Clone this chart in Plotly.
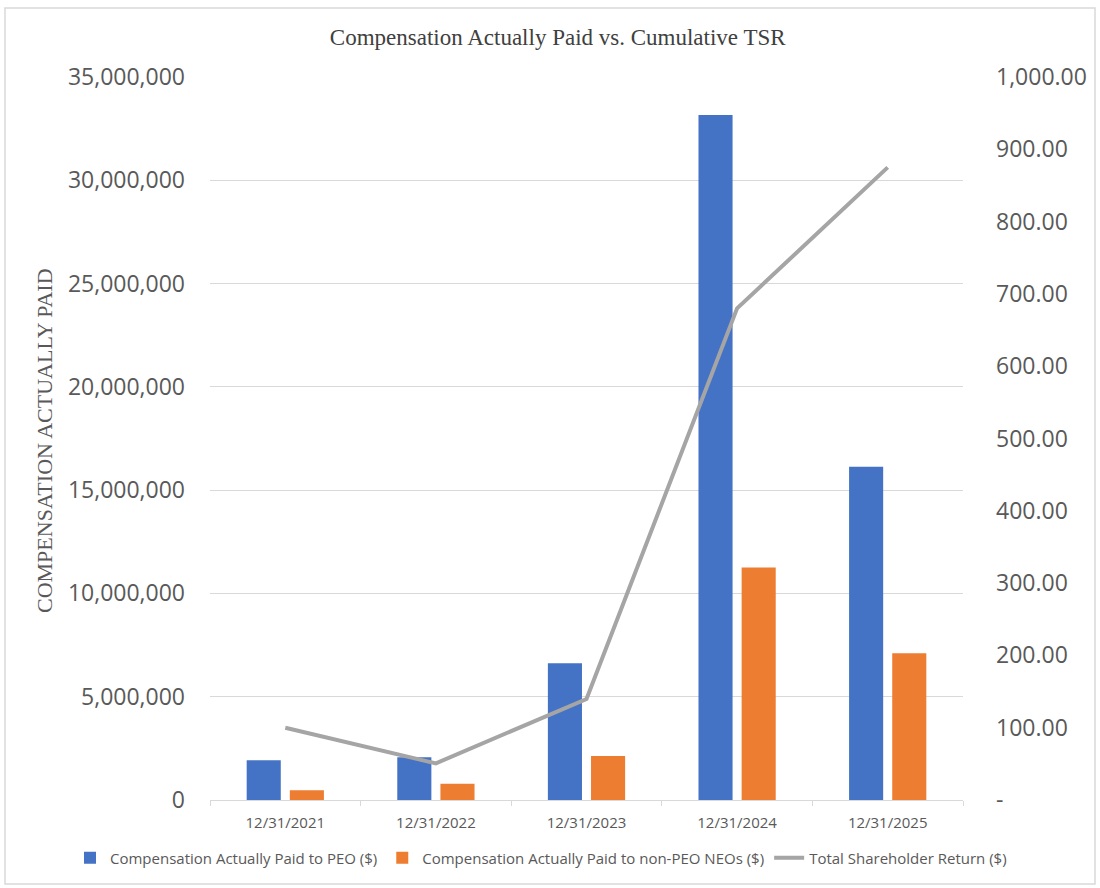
import plotly.graph_objects as go

categories = ["12/31/2021", "12/31/2022", "12/31/2023", "12/31/2024", "12/31/2025"]
cap_peo = [1930000, 2070000, 6620000, 33160000, 16130000]
cap_non_peo = [470000, 790000, 2130000, 11250000, 7100000]
tsr = [100.0, 50.7, 139.7, 680.0, 875.0]

left_tickvals = [0, 5000000, 10000000, 15000000, 20000000, 25000000, 30000000, 35000000]
right_tickvals = [0, 100, 200, 300, 400, 500, 600, 700, 800, 900, 1000]
right_ticktext = ["-", "100.00", "200.00", "300.00", "400.00", "500.00", "600.00",
                  "700.00", "800.00", "900.00", "1,000.00"]

BLUE = "#4472C4"
ORANGE = "#ED7D31"
GRAY = "#A5A5A5"
TXT = "#595959"

fig = go.Figure()
fig.add_trace(go.Bar(x=categories, y=cap_peo, name="Compensation Actually Paid to PEO ($)",
                     marker=dict(color=BLUE, line=dict(width=0))))
fig.add_trace(go.Bar(x=categories, y=cap_non_peo, name="Compensation Actually Paid to non-PEO NEOs ($)",
                     marker=dict(color=ORANGE, line=dict(width=0))))
fig.add_trace(go.Scatter(x=categories, y=tsr, name="Total Shareholder Return ($)", yaxis="y2",
                         mode="lines", line=dict(color=GRAY, width=4)))

L, R, T, B = 210, 137, 77, 88
W, H = 1100, 888
pw = W - L - R
ph = H - T - B

def px_x(px):
    return (px - L) / pw

def px_y(py):
    return (H - B - py) / ph

fig.update_layout(
    width=W, height=H,
    margin=dict(l=L, r=R, t=T, b=B, autoexpand=False),
    paper_bgcolor="white", plot_bgcolor="white",
    barmode="group", bargap=0.427, bargroupgap=0.21,
    font=dict(family="Open Sans", color=TXT),
    title=dict(text="Compensation Actually Paid vs. Cumulative TSR",
               font=dict(family="Liberation Serif", size=23, color="#404040"),
               x=0.507, xanchor="center", y=1 - 37 / H, yanchor="middle"),
    xaxis=dict(type="category", showline=True, linecolor="#D9D9D9", linewidth=1,
               ticks="outside", tickson="boundaries", ticklen=5, tickcolor="#D9D9D9",
               tickfont=dict(size=15, color=TXT), showgrid=False, zeroline=False,
               ticklabelstandoff=9),
    yaxis=dict(range=[0, 35000000], tickvals=left_tickvals, tickformat=",",
               showgrid=True, gridcolor="#D9D9D9", gridwidth=1, zeroline=False,
               showline=False, ticks="", tickfont=dict(size=23, color=TXT),
               ticklabelstandoff=24),
    yaxis2=dict(range=[0, 1000], tickvals=right_tickvals, ticktext=right_ticktext,
                overlaying="y", side="right", showgrid=False, zeroline=False,
                showline=False, ticks="", tickfont=dict(size=23, color=TXT),
                ticklabelstandoff=32),
    legend=dict(orientation="h", x=px_x(70), xanchor="left", y=px_y(858), yanchor="middle",
                font=dict(size=15, color=TXT), traceorder="normal",
                bgcolor="rgba(0,0,0,0)"),
    annotations=[dict(text="COMPENSATION ACTUALLY PAID", textangle=-90,
                      xref="paper", yref="paper", x=px_x(44), y=px_y(441),
                      xanchor="center", yanchor="middle", showarrow=False,
                      font=dict(family="Liberation Serif", size=22, color=TXT))],
    shapes=[dict(type="rect", xref="paper", yref="paper",
                 x0=px_x(5), x1=px_x(1095), y0=px_y(884), y1=px_y(8),
                 line=dict(color="#D9D9D9", width=1.5), fillcolor="rgba(0,0,0,0)",
                 layer="below")],
)

fig.write_html("out.html")
